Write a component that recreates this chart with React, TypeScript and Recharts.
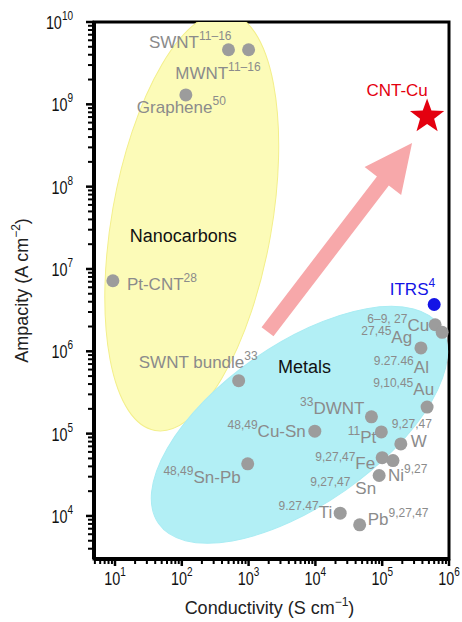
import { Label, ReferenceArea, ReferenceDot, ReferenceLine, Scatter, ScatterChart, XAxis, YAxis } from "recharts";

const FONT = "'Liberation Sans', Arial, Helvetica, sans-serif";

const MATERIALS = [
  "SWNT",
  "MWNT",
  "Graphene",
  "Pt-CNT",
  "SWNT bundle",
  "Cu",
  "Ag",
  "Al",
  "Au",
  "DWNT",
  "Cu-Sn",
  "Pt",
  "W",
  "Fe",
  "Ni",
  "Sn",
  "Sn-Pb",
  "Ti",
  "Pb",
];
// S cm^-1
const CONDUCTIVITY = [500, 1000, 115, 9.3, 710, 6.2e5, 7.9e5, 3.8e5, 4.7e5, 6.9e4, 9.8e3, 9.7e4, 1.9e5, 1.0e5, 1.45e5, 9.0e4, 970, 2.35e4, 4.6e4];
// A cm^-2
const AMPACITY = [4.6e9, 4.6e9, 1.3e9, 7.2e6, 4.4e5, 2.1e6, 1.7e6, 1.1e6, 2.1e5, 1.6e5, 1.07e5, 1.05e5, 7.5e4, 5.1e4, 4.7e4, 3.1e4, 4.3e4, 1.08e4, 7.8e3];
const REFERENCES = [
  "11–16",
  "11–16",
  "50",
  "28",
  "33",
  "6–9, 27",
  "27,45",
  "9.27.46",
  "9,10,45",
  "33",
  "48,49",
  "11",
  "9,27,47",
  "9,27,47",
  "9,27",
  "9,27,47",
  "48,49",
  "9.27.47",
  "9,27,47",
];

const ITRS_CONDUCTIVITY = [6.0e5];
const ITRS_AMPACITY = [3.7e6];
const CNT_CU_CONDUCTIVITY = [4.7e5];
const CNT_CU_AMPACITY = [7.1e8];

const ARROW_FROM = { x: 1920, y: 1.73e6 };
const ARROW_TO = { x: 2.8e5, y: 3.4e8 };

const REGION_NAMES = ["Nanocarbons", "Metals"];
const REGION_LABEL_X = [105, 6850];
const REGION_LABEL_Y = [2.1e7, 5.5e5];
const REGION_CENTER_X = [141, 5770];
const REGION_CENTER_Y = [3.76e7, 1.28e5];

const X_DOMAIN: [number, number] = [4.85, 1e6];
const Y_DOMAIN: [number, number] = [3e3, 1e10];
const X_DECADES = [1, 10, 100, 1e3, 1e4, 1e5];
const Y_DECADES = [1e3, 1e4, 1e5, 1e6, 1e7, 1e8, 1e9];

const logTicks = (decades: number[], domain: [number, number]) =>
  decades
    .flatMap((d) => [1, 2, 3, 4, 5, 6, 7, 8, 9].map((m) => m * d))
    .concat([decades[decades.length - 1] * 10])
    .filter((v) => v > domain[0] * 1.0001 && v <= domain[1] * 1.0001);

const X_TICKS = logTicks(X_DECADES, X_DOMAIN);
const Y_TICKS = logTicks(Y_DECADES, Y_DOMAIN);

const CLIP_ID = "plot-area-clip";

type Layout = { anchor: "start" | "end"; dx: number; dy: number; sup: "pre" | "post" | "above" };

const LABEL_LAYOUT: Record<string, Layout> = {
  SWNT: { anchor: "end", dx: 3, dy: -2, sup: "post" },
  MWNT: { anchor: "end", dx: 12, dy: 29, sup: "post" },
  Graphene: { anchor: "end", dx: 40, dy: 18, sup: "post" },
  "Pt-CNT": { anchor: "start", dx: 14, dy: 9, sup: "post" },
  "SWNT bundle": { anchor: "end", dx: 19, dy: -13, sup: "post" },
  Cu: { anchor: "end", dx: -6, dy: 6, sup: "pre" },
  Ag: { anchor: "end", dx: -30, dy: 11, sup: "pre" },
  Al: { anchor: "end", dx: 8, dy: 25, sup: "pre" },
  Au: { anchor: "end", dx: 7, dy: -12, sup: "pre" },
  DWNT: { anchor: "end", dx: -7, dy: -3, sup: "pre" },
  "Cu-Sn": { anchor: "end", dx: -9, dy: 6, sup: "pre" },
  Pt: { anchor: "end", dx: -5, dy: 11, sup: "pre" },
  W: { anchor: "start", dx: 10, dy: 3, sup: "above" },
  Fe: { anchor: "end", dx: -7, dy: 11, sup: "pre" },
  Ni: { anchor: "start", dx: -5, dy: 20, sup: "post" },
  Sn: { anchor: "end", dx: -3, dy: 18, sup: "pre" },
  "Sn-Pb": { anchor: "end", dx: -7, dy: 19, sup: "pre" },
  Ti: { anchor: "end", dx: -8, dy: 5, sup: "pre" },
  Pb: { anchor: "start", dx: 8, dy: 0, sup: "post" },
};

const GRAY_TEXT = "#8b8b8b";
const GRAY_DOT = "#9c9c9c";

const points = MATERIALS.map((name, i) => ({ name, x: CONDUCTIVITY[i], y: AMPACITY[i], refs: REFERENCES[i] }));
const itrs = ITRS_CONDUCTIVITY.map((x, i) => ({ x, y: ITRS_AMPACITY[i] }));
const cntCu = CNT_CU_CONDUCTIVITY.map((x, i) => ({ x, y: CNT_CU_AMPACITY[i] }));

function PointLabel({ cx, cy, name, refs, fill }: { cx: number; cy: number; name: string; refs: string; fill: string }) {
  const l = LABEL_LAYOUT[name];
  const x = cx + l.dx;
  const y = cy + l.dy;
  if (l.sup === "above") {
    return (
      <g fill={fill} fontFamily={FONT}>
        <text x={x} y={y} fontSize={17}>
          {name}
        </text>
        <text x={cx - 9} y={cy - 16} fontSize={12}>
          {refs}
        </text>
      </g>
    );
  }
  return (
    <text x={x} y={y} textAnchor={l.anchor} fill={fill} fontFamily={FONT} fontSize={17}>
      {l.sup === "pre" ? (
        <>
          <tspan dy={-8} fontSize={12}>
            {refs}
          </tspan>
          <tspan dy={8} dx={name === "Sn" ? 5 : 0}>
            {name}
          </tspan>
        </>
      ) : (
        <>
          {name}
          <tspan dy={-8} fontSize={12}>
            {refs}
          </tspan>
        </>
      )}
    </text>
  );
}

const isMajor = (v: number) => {
  const e = Math.log10(v);
  return Math.abs(e - Math.round(e)) < 1e-9;
};

// tick labels in the figure are a condensed face: squeeze them horizontally
function PowerLabel({ x, y, exp, anchor }: { x: number; y: number; exp: number; anchor: "middle" | "end" }) {
  return (
    <g transform={`translate(${x} ${y}) scale(0.8 1)`}>
      <text x={0} y={0} textAnchor={anchor} fontFamily={FONT} fontSize={18} fill="#111">
        10
        <tspan dy={-9} fontSize={12.5}>
          {exp}
        </tspan>
      </text>
    </g>
  );
}

function XTick(props: any) {
  const { x, y, payload } = props;
  const major = isMajor(payload.value);
  return (
    <g>
      <line x1={x} x2={x} y1={y} y2={y + (major ? 7 : 5)} stroke="#000" strokeWidth={major ? 2.5 : 2} />
      {major && <PowerLabel x={x} y={y + 26} exp={Math.round(Math.log10(payload.value))} anchor="middle" />}
    </g>
  );
}

function YTick(props: any) {
  const { x, y, payload } = props;
  const major = isMajor(payload.value);
  return (
    <g>
      <line x1={x} x2={x - (major ? 8 : 6)} y1={y} y2={y} stroke="#000" strokeWidth={major ? 2.5 : 2} />
      {major && <PowerLabel x={x - 21} y={y + 7} exp={Math.round(Math.log10(payload.value))} anchor="end" />}
    </g>
  );
}

const ellipse = (rx: number, ry: number, angle: number, fill: string, stroke: string) => (p: any) =>
  (
    <g clipPath={`url(#${CLIP_ID})`}>
      <ellipse
        cx={p.cx}
        cy={p.cy}
        rx={rx}
        ry={ry}
        transform={`rotate(${angle} ${p.cx} ${p.cy})`}
        fill={fill}
        stroke={stroke}
        strokeWidth={1}
      />
    </g>
  );

// plot frame; also publishes the plot rectangle as a clip path for the shaded regions
function Frame(p: any) {
  const { x, y, width, height } = p;
  return (
    <g>
      <defs>
        <clipPath id={CLIP_ID}>
          <rect x={x} y={y} width={width} height={height} />
        </clipPath>
      </defs>
      <rect x={x} y={y} width={width} height={height} fill="none" stroke="#000" strokeWidth={3} />
    </g>
  );
}

function Arrow(p: any) {
  const { x1, y1, x2, y2 } = p;
  const len = Math.hypot(x2 - x1, y2 - y1);
  const ux = (x2 - x1) / len;
  const uy = (y2 - y1) / len;
  const nx = -uy;
  const ny = ux;
  const hw = 7.5;
  const hh = 23;
  const hl = 48;
  const bx = x2 - ux * hl;
  const by = y2 - uy * hl;
  const pts = [
    [x1 + nx * hw, y1 + ny * hw],
    [bx + nx * hw, by + ny * hw],
    [bx + nx * hh, by + ny * hh],
    [x2, y2],
    [bx - nx * hh, by - ny * hh],
    [bx - nx * hw, by - ny * hw],
    [x1 - nx * hw, y1 - ny * hw],
  ];
  return <polygon points={pts.map((q) => q.join(",")).join(" ")} fill="#f7a8aa" />;
}

function Star({ cx, cy }: any) {
  const outer = 18;
  const inner = 7.4;
  const pts = [];
  for (let i = 0; i < 10; i++) {
    const r = i % 2 === 0 ? outer : inner;
    const a = -Math.PI / 2 + (i * Math.PI) / 5;
    pts.push(`${cx + r * Math.cos(a)},${cy + r * Math.sin(a)}`);
  }
  return (
    <g>
      <polygon points={pts.join(" ")} fill="#e4000f" />
      <text x={cx - 30} y={cy - 21} textAnchor="middle" fill="#e4000f" fontFamily={FONT} fontSize={17}>
        CNT-Cu
      </text>
    </g>
  );
}

export default function App() {
  return (
    <div style={{ position: "absolute", left: 0, top: 0, width: 462, height: 622, background: "#fff" }}>
      <ScatterChart width={462} height={622} margin={{ top: 22, right: 13, bottom: 0, left: 0 }}>
        <XAxis
          dataKey="x"
          type="number"
          scale="log"
          domain={X_DOMAIN}
          allowDataOverflow
          ticks={X_TICKS}
          interval={0}
          tick={(p: any) => <XTick {...p} />}
          tickLine={false}
          tickSize={0}
          tickMargin={0}
          height={63}
          axisLine={{ stroke: "#000", strokeWidth: 4 }}
        >
          <Label
            content={(p: any) => {
              const vb = p.viewBox;
              return (
                <text x={vb.x + vb.width / 2 - 2} y={vb.y + 55} textAnchor="middle" fontFamily={FONT} fontSize={18} fill="#222">
                  Conductivity (S cm
                  <tspan dy={-8} fontSize={12}>
                    −1
                  </tspan>
                  <tspan dy={8}>)</tspan>
                </text>
              );
            }}
          />
        </XAxis>
        <YAxis
          dataKey="y"
          type="number"
          scale="log"
          domain={Y_DOMAIN}
          allowDataOverflow
          ticks={Y_TICKS}
          interval={0}
          tick={(p: any) => <YTick {...p} />}
          tickLine={false}
          tickSize={0}
          tickMargin={0}
          width={94}
          axisLine={{ stroke: "#000", strokeWidth: 4 }}
        >
          <Label
            content={(p: any) => {
              const vb = p.viewBox;
              const cx = vb.x + 28;
              const cy = vb.y + vb.height / 2;
              return (
                <text
                  x={cx}
                  y={cy}
                  transform={`rotate(-90 ${cx} ${cy})`}
                  textAnchor="middle"
                  fontFamily={FONT}
                  fontSize={18}
                  fill="#222"
                >
                  Ampacity (A cm
                  <tspan dy={-8} fontSize={12}>
                    −2
                  </tspan>
                  <tspan dy={8}>)</tspan>
                </text>
              );
            }}
          />
        </YAxis>

        <ReferenceDot
          x={REGION_CENTER_X[0]}
          y={REGION_CENTER_Y[0]}
          shape={ellipse(80, 212, 10, "#fcfbb8", "#f3ef8a")}
        />
        <ReferenceDot
          x={REGION_CENTER_X[1]}
          y={REGION_CENTER_Y[1]}
          shape={ellipse(172, 80, -35, "#b2eff5", "#a9ecf3")}
        />
        {REGION_NAMES.map((name, i) => (
          <ReferenceDot
            key={name}
            x={REGION_LABEL_X[i]}
            y={REGION_LABEL_Y[i]}
            shape={(p: any) => (
              <text x={p.cx} y={p.cy} textAnchor="middle" fontFamily={FONT} fontSize={18} fill="#111">
                {name}
              </text>
            )}
          />
        ))}
        <ReferenceLine segment={[ARROW_FROM, ARROW_TO]} shape={(p: any) => <Arrow {...p} />} />

        <Scatter
          data={points}
          isAnimationActive={false}
          shape={(p: any) => (
            <g>
              <circle cx={p.cx} cy={p.cy} r={6.5} fill={GRAY_DOT} />
              <PointLabel cx={p.cx} cy={p.cy} name={p.payload.name} refs={p.payload.refs} fill={GRAY_TEXT} />
            </g>
          )}
        />
        <Scatter
          data={itrs}
          isAnimationActive={false}
          shape={(p: any) => (
            <g>
              <circle cx={p.cx} cy={p.cy} r={6.5} fill="#1414e6" />
              <text x={p.cx + 1} y={p.cy - 10} textAnchor="end" fill="#1414e6" fontFamily={FONT} fontSize={17}>
                ITRS
                <tspan dy={-8} fontSize={12}>
                  4
                </tspan>
              </text>
            </g>
          )}
        />
        <Scatter data={cntCu} isAnimationActive={false} shape={(p: any) => <Star cx={p.cx} cy={p.cy} />} />

        <ReferenceArea
          x1={X_DOMAIN[0]}
          x2={X_DOMAIN[1]}
          y1={Y_DOMAIN[0]}
          y2={Y_DOMAIN[1]}
          shape={(p: any) => <Frame {...p} />}
        />
      </ScatterChart>
    </div>
  );
}
